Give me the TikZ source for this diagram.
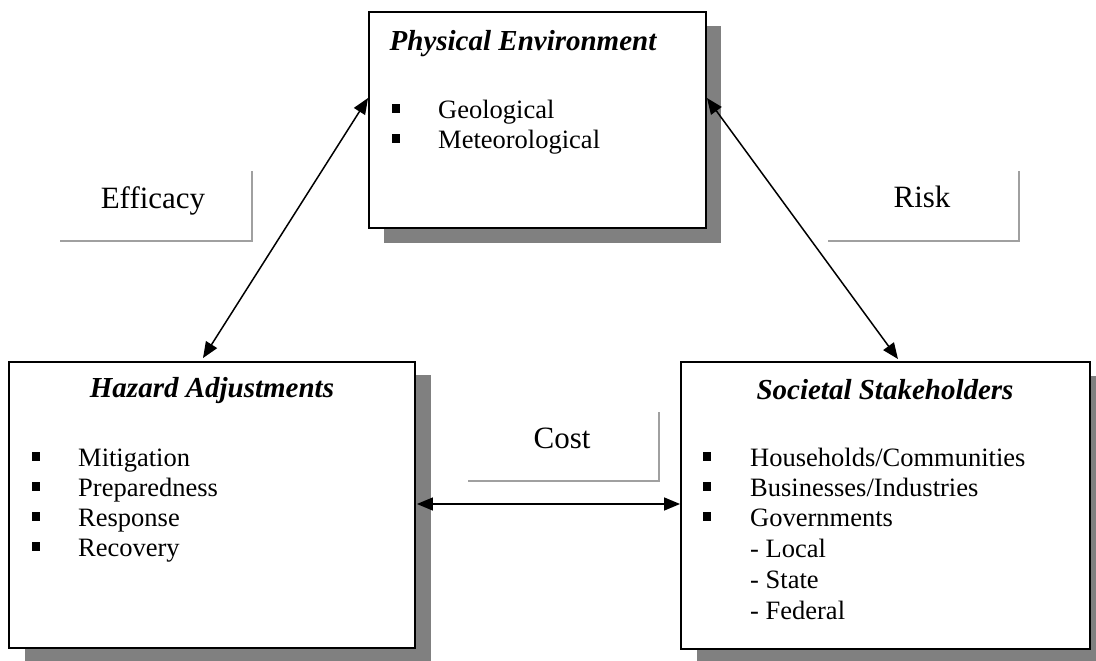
\documentclass[tikz,border=0pt]{standalone}
\usepackage{fontspec}
\setmainfont{Liberation Serif}
\usetikzlibrary{calc,arrows.meta}
\definecolor{shadowgray}{HTML}{808080}
\definecolor{labelgray}{HTML}{A0A0A0}
\tikzset{
  box/.style={draw=black, line width=1.9pt, fill=white, inner sep=0pt},
  boxshadow/.style={fill=shadowgray},
  title/.style={font=\fontsize{29}{34}\selectfont\bfseries\itshape, inner sep=0pt, anchor=base},
  item/.style={font=\fontsize{26.5}{30}\selectfont, inner sep=0pt, anchor=base west},
  bullet/.style={fill=black, minimum size=8.5pt, inner sep=0pt},
  lab/.style={font=\fontsize{31}{36}\selectfont, inner sep=0pt, anchor=base},
  labline/.style={draw=labelgray, line width=1.8pt},
  link/.style={line width=1.5pt, {Triangle[length=16pt,width=13pt]}-{Triangle[length=16pt,width=13pt]}}
}
\begin{document}
\begin{tikzpicture}[x=1pt,y=-1pt]
\useasboundingbox (0,0) rectangle (1096,661);

\path (537.5,120) coordinate (pec);
\path (212,505) coordinate (hac);
\path (885.5,505.5) coordinate (ssc);

% shadows
\fill[boxshadow] (384,26) rectangle (721,243);
\fill[boxshadow] (25,375) rectangle (431,661);
\fill[boxshadow] (697,376) rectangle (1106,663);

\node[box, minimum width=337pt, minimum height=216pt] (pe) at (pec) {};
\node[box, minimum width=406pt, minimum height=286pt] (ha) at (hac) {};
\node[box, minimum width=409pt, minimum height=287pt] (ss) at (ssc) {};

% Physical Environment
\node[title] (pet) at (523,51) {Physical Environment};
\node[bullet] (peb1) at (396,108.5) {};
\node[item] (pei1) at (438,118) {Geological};
\node[bullet] (peb2) at (396,138.5) {};
\node[item] (pei2) at (438,148) {Meteorological};

% Hazard Adjustments
\node[title] (hat) at (212,397) {Hazard Adjustments};
\node[bullet] (hab1) at (36,456.5) {};
\node[item] (hai1) at (78,466) {Mitigation};
\node[bullet] (hab2) at (36,486.5) {};
\node[item] (hai2) at (78,496) {Preparedness};
\node[bullet] (hab3) at (36,516.5) {};
\node[item] (hai3) at (78,526) {Response};
\node[bullet] (hab4) at (36,546.5) {};
\node[item] (hai4) at (78,556) {Recovery};

% Societal Stakeholders
\node[title] (sst) at (885,399) {Societal Stakeholders};
\node[bullet] (ssb1) at (707,456.5) {};
\node[item] (ssi1) at (750,466) {Households/Communities};
\node[bullet] (ssb2) at (707,486.5) {};
\node[item] (ssi2) at (750,496) {Businesses/Industries};
\node[bullet] (ssb3) at (707,516.5) {};
\node[item] (ssi3) at (750,526) {Governments};
\node[item] (ssi4) at (750,557) {- Local};
\node[item] (ssi5) at (750,588) {- State};
\node[item] (ssi6) at (750,619) {- Federal};

% labels
\node[lab] (eff) at (153,208) {Efficacy};
\draw[labline] (60,241) -- (252,241) -- (252,171);
\node[lab] (risk) at (922,207) {Risk};
\draw[labline] (828,241) -- (1019,241) -- (1019,171);
\node[lab] (cost) at (562,448) {Cost};
\draw[labline] (468,481) -- (659,481) -- (659,412);

% connectors
\coordinate (pel) at ($(pe.west)+(0,-22)$);
\coordinate (per) at ($(pe.east)+(0,-22)$);
\coordinate (han) at ($(ha.north)+(-9,-3)$);
\coordinate (ssn) at ($(ss.north)+(12.5,-2)$);
\draw[link] (pel) -- (han);
\draw[link] (per) -- (ssn);
\draw[link] ($(ha.east)+(1,-1)$) -- ($(ss.west)+(0,-1.5)$);
\end{tikzpicture}
\end{document}
